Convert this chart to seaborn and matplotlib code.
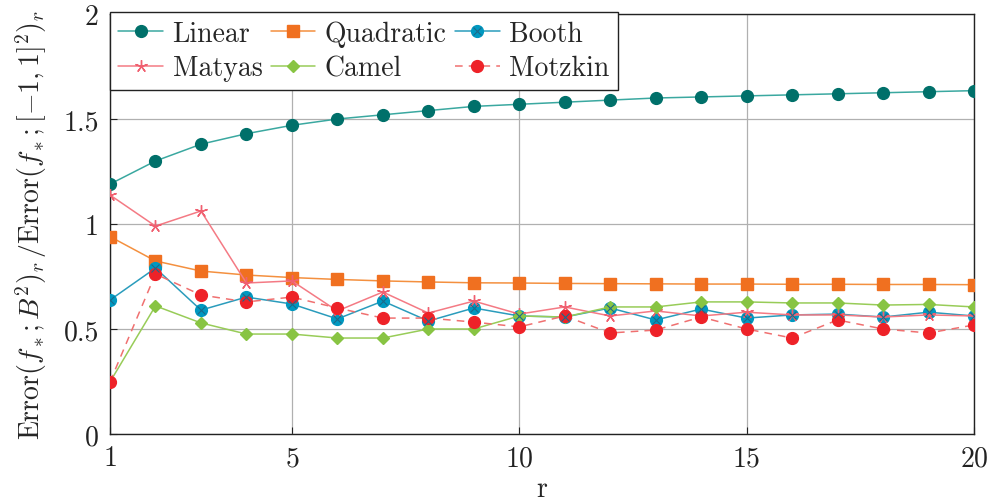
import numpy as np
import pandas as pd
import matplotlib
matplotlib.use("Agg")
import matplotlib.pyplot as plt
import seaborn as sns
from matplotlib.legend_handler import HandlerTuple

r = list(range(1, 21))
linear = [1.19, 1.30, 1.38, 1.43, 1.47, 1.50, 1.52, 1.54, 1.56, 1.57, 1.58, 1.59, 1.60, 1.605, 1.61, 1.615, 1.62, 1.625, 1.63, 1.635]
quadratic = [0.94, 0.824, 0.776, 0.757, 0.745, 0.736, 0.729, 0.724, 0.72, 0.719, 0.717, 0.716, 0.715, 0.714, 0.714, 0.713, 0.713, 0.712, 0.712, 0.711]
booth = [0.638, 0.79, 0.59, 0.652, 0.619, 0.548, 0.633, 0.538, 0.60, 0.562, 0.557, 0.60, 0.543, 0.595, 0.552, 0.567, 0.571, 0.557, 0.58, 0.562]
matyas = [1.138, 0.99, 1.062, 0.719, 0.729, 0.586, 0.676, 0.576, 0.633, 0.571, 0.605, 0.562, 0.586, 0.562, 0.58, 0.567, 0.567, 0.557, 0.567, 0.562]
camel = [0.248, 0.61, 0.529, 0.476, 0.476, 0.457, 0.457, 0.50, 0.50, 0.562, 0.557, 0.605, 0.605, 0.629, 0.629, 0.624, 0.624, 0.614, 0.617, 0.605]
motzkin = [0.248, 0.762, 0.662, 0.629, 0.652, 0.60, 0.552, 0.552, 0.533, 0.51, 0.562, 0.481, 0.495, 0.557, 0.50, 0.457, 0.543, 0.50, 0.481, 0.519]

names = ["Linear", "Quadratic", "Booth", "Matyas", "Camel", "Motzkin"]
values = [linear, quadratic, booth, matyas, camel, motzkin]

sns.set_theme(style="white")
plt.rcParams["font.family"] = ["cmr10", "DejaVu Serif"]
plt.rcParams["mathtext.fontset"] = "cm"
plt.rcParams["axes.formatter.use_mathtext"] = True
plt.rcParams["axes.unicode_minus"] = False

fig = plt.figure(figsize=(9.94, 5.02), dpi=100)
ax = fig.add_axes([110/994, 1-435/502, 864/994, 420/502])

styles = {
    "Linear":    dict(color="#3aa8a0", marker="o", mfc="#00706a", mec="#00706a", ms=8.5, ls="-"),
    "Quadratic": dict(color="#f4903f", marker="s", mfc="#f07020", mec="#f07020", ms=8, ls="-"),
    "Booth":     dict(color="#2a9cbc", marker="o", mfc="#0098c0", mec="#0098c0", ms=8.5, ls="-"),
    "Matyas":    dict(color="#f47a84", marker=(5, 2, 0), mfc="#f06070", mec="#f06070", ms=9, ls="-"),
    "Camel":     dict(color="#98cc58", marker="D", mfc="#88c443", mec="#88c443", ms=6.5, ls="-"),
    "Motzkin":   dict(color="#f07070", marker="o", mfc="#ee2228", mec="#ee2228", ms=8.5, ls=(0, (5, 4))),
}

handles = {}
for name, vals in zip(names, values):
    st = styles[name]
    df = pd.DataFrame({"r": r, "v": vals})
    n_before = len(ax.lines)
    sns.lineplot(data=df, x="r", y="v", ax=ax, color=st["color"], marker=st["marker"],
                 markerfacecolor=st["mfc"], markeredgecolor=st["mec"], markersize=st["ms"],
                 markeredgewidth=1.0, linewidth=1.1, linestyle=st["ls"], zorder=3)
    h = ax.lines[n_before]
    if name == "Booth":
        h2, = ax.plot(df["r"], df["v"], linestyle="none", marker="x", color="#1c6a8a",
                      markersize=6, markeredgewidth=0.8, zorder=4)
        handles[name] = (h, h2)
    else:
        handles[name] = h

ax.set_xlim(1, 20)
ax.set_ylim(0, 2)
ax.set_xticks([1, 5, 10, 15, 20])
ax.set_yticks([0, 0.5, 1, 1.5, 2])
ax.set_yticklabels(["0", "0.5", "1", "1.5", "2"])
ax.grid(True, color="#b0b0b0", linewidth=0.9)
for s in ax.spines.values():
    s.set_color("#222222")
    s.set_linewidth(1.0)
ax.tick_params(direction="in", length=5, width=0.8, labelsize=20, colors="#222222",
               labelcolor="#222222", pad=8, top=False, right=False, left=True, bottom=True)
ax.set_xlabel("r", fontsize=20, labelpad=3)
ax.set_ylabel(r"$\mathrm{Error}(f_*;B^2)_r\,/\mathrm{Error}(f_*;[-1,1]^2)_r$", fontsize=20, labelpad=10)

order = ["Linear", "Matyas", "Quadratic", "Camel", "Booth", "Motzkin"]
leg = ax.legend([handles[k] for k in order], order, loc="upper left", bbox_to_anchor=(0, 1.005),
                ncol=3, fontsize=20, frameon=True, fancybox=False, framealpha=1,
                edgecolor="#222222", borderaxespad=0, handlelength=1.6, handletextpad=0.35,
                columnspacing=0.3, labelspacing=0.3, borderpad=0.3,
                handler_map={tuple: HandlerTuple(ndivide=1)})
leg.get_frame().set_linewidth(1.0)

fig.savefig("out.png", dpi=100)
